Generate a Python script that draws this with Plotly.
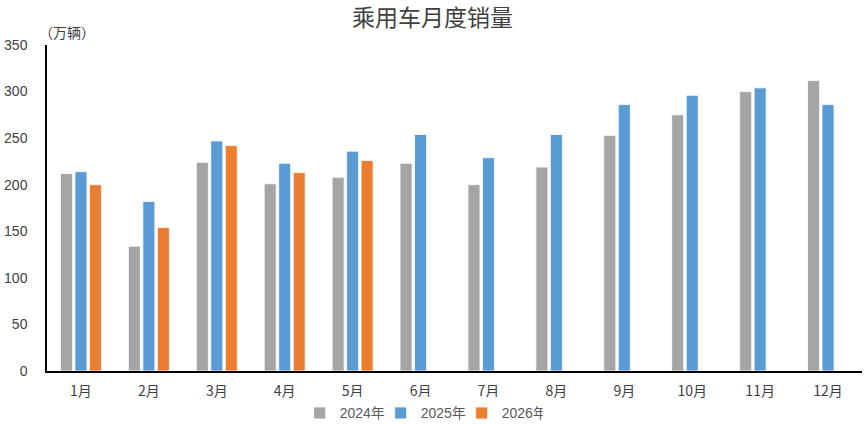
import plotly.graph_objects as go

# 月份与各年销量（万辆）
months = ['1月', '2月', '3月', '4月', '5月', '6月', '7月', '8月', '9月', '10月', '11月', '12月']
sales_2024 = [212, 134, 224, 201, 208, 223, 200, 219, 253, 275, 300, 312]
sales_2025 = [214, 182, 247, 223, 236, 254, 229, 254, 286, 296, 304, 286]
sales_2026 = [200, 154, 242, 213, 226, None, None, None, None, None, None, None]

series = [
    ('2024年', sales_2024, '#A5A5A5'),
    ('2025年', sales_2025, '#5B9BD5'),
    ('2026年', sales_2026, '#ED7D31'),
]

fig = go.Figure()
for name, vals, color in series:
    fig.add_trace(go.Bar(
        x=months, y=vals, name=name,
        marker=dict(color=color, line=dict(color='white', width=0.8)),
    ))

fig.update_layout(
    width=865, height=424,
    margin=dict(l=47, r=3, t=45, b=53, autoexpand=False),
    paper_bgcolor='white', plot_bgcolor='white',
    barmode='group', bargap=0.36, bargroupgap=0.17,
    title=dict(text='乘用车月度销量', x=0.5, xanchor='center', y=0.958, yanchor='middle',
               font=dict(family='Noto Sans CJK SC', size=23, color='#404040'), automargin=False),
    legend=dict(orientation='h', x=0.31, xanchor='left', y=-0.13, yanchor='middle',
                font=dict(family='Liberation Sans, Noto Sans CJK SC', size=14, color='#595959'),
                itemwidth=30, entrywidth=36, entrywidthmode='pixels', traceorder='normal'),
    font=dict(family='Liberation Sans, Noto Sans CJK SC', color='#404040'),
)

fig.update_xaxes(
    showline=True, linecolor='black', linewidth=1.5, showgrid=False, automargin=False,
    ticks='', ticklabelstandoff=6,
    tickfont=dict(family='Noto Sans CJK SC', size=14, color='#404040'),
)
fig.update_yaxes(
    range=[0, 350], dtick=50, showline=True, linecolor='black', linewidth=1.5,
    showgrid=False, zeroline=False, ticks='', ticklabelstandoff=15, automargin=False,
    tickfont=dict(family='Liberation Sans', size=14, color='#404040'),
)

fig.add_annotation(
    text='（万辆）', xref='paper', yref='paper', x=-0.012, y=1.0, xanchor='left', yanchor='bottom',
    yshift=1, showarrow=False, font=dict(family='Noto Sans CJK SC', size=14, color='#404040'),
)

fig.write_html('out.html', config={'displayModeBar': False},
               post_script="document.body.style.margin='0';")
